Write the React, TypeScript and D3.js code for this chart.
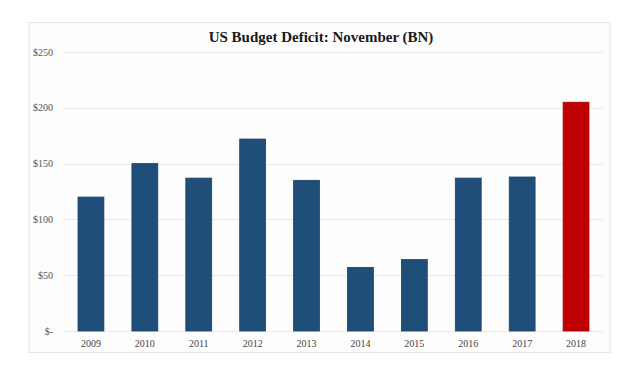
import React from "react";
import * as d3 from "d3";

const years = ["2009", "2010", "2011", "2012", "2013", "2014", "2015", "2016", "2017", "2018"];
const deficits = [120, 150, 137, 172, 135, 57, 64, 137, 138, 205];
const yTicks = [0, 50, 100, 150, 200, 250];
const yTickLabels = ["$-", "$50", "$100", "$150", "$200", "$250"];
const title = "US Budget Deficit: November (BN)";
const highlightYear = "2018";

const W = 640;
const H = 378;

export default function App() {
  const x = d3.scaleBand<string>().domain(years).range([64, 603]).paddingInner(0.52).paddingOuter(0.26);
  const y = d3.scaleLinear().domain([0, 250]).range([331, 52]);
  const font = "'Liberation Serif', 'Times New Roman', serif";

  return (
    <svg
      width={W}
      height={H}
      style={{ position: "absolute", left: 0, top: 0, background: "#ffffff" }}
    >
      <rect x={29} y={22.5} width={581} height={330} fill="#fdfdfd" stroke="#e4e4e4" strokeWidth={1} />
      <text
        x={321}
        y={42}
        textAnchor="middle"
        fontFamily={font}
        fontWeight="bold"
        fontSize={15}
        fill="#1a1a1a"
      >
        {title}
      </text>
      {yTicks.map((t, i) => (
        <g key={t}>
          <line x1={63} x2={603} y1={Math.round(y(t)) + 0.5} y2={Math.round(y(t)) + 0.5} stroke="#e9e9e9" strokeWidth={1} />
          <text
            x={53}
            y={y(t)}
            dy="0.35em"
            textAnchor="end"
            fontFamily={font}
            fontSize={10}
            fill="#555"
          >
            {yTickLabels[i]}
          </text>
        </g>
      ))}
      {years.map((yr, i) => (
        <rect
          key={yr}
          x={x(yr)}
          y={y(deficits[i])}
          width={x.bandwidth()}
          height={y(0) - y(deficits[i])}
          fill={yr === highlightYear ? "#c00000" : "#1f4e79"}
          stroke={yr === highlightYear ? "#a80000" : "#1a4268"}
          strokeWidth={0.8}
        />
      ))}
      {years.map((yr) => (
        <text
          key={yr}
          x={(x(yr) as number) + x.bandwidth() / 2}
          y={347}
          textAnchor="middle"
          fontFamily={font}
          fontSize={10}
          fill="#444"
        >
          {yr}
        </text>
      ))}
    </svg>
  );
}
